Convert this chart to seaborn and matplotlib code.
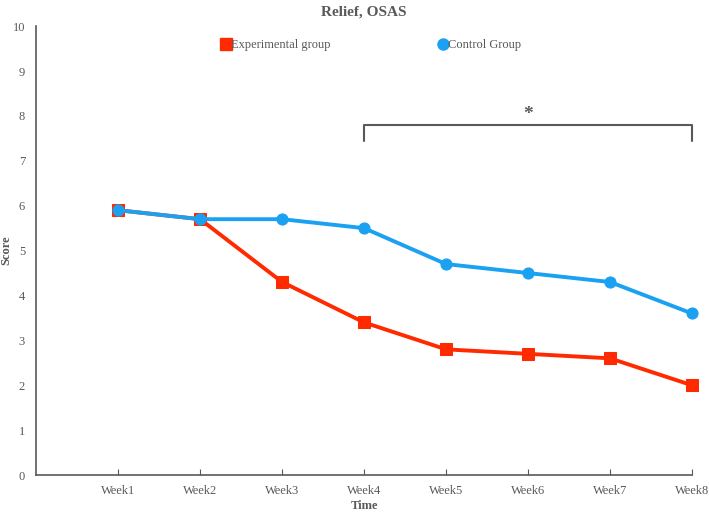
import matplotlib
matplotlib.use('Agg')
import matplotlib.pyplot as plt
from matplotlib.lines import Line2D
import seaborn as sb
import pandas as pd

weeks = ['Week1', 'Week2', 'Week3', 'Week4', 'Week5', 'Week6', 'Week7', 'Week8']
experimental = [5.9, 5.7, 4.3, 3.4, 2.8, 2.7, 2.6, 2.0]
control = [5.9, 5.7, 5.7, 5.5, 4.7, 4.5, 4.3, 3.6]
y_ticks = list(range(0, 11))

red = '#FF2A00'
blue = '#1BA1F2'
grey = '#595959'

sb.set_style('white')
plt.rcParams['font.family'] = ['Liberation Serif', 'DejaVu Serif']

df = pd.DataFrame({'pos': list(range(1, len(weeks) + 1)), 'week': weeks,
                   'Experimental group': experimental, 'Control Group': control})

fig, ax = plt.subplots(figsize=(7.09, 5.13), dpi=100)
fig.subplots_adjust(left=0.051, right=0.976, top=0.949, bottom=0.074)

sb.lineplot(data=df, x='pos', y='Experimental group', ax=ax, color=red, lw=2.8,
            marker='s', markersize=8, markeredgecolor=red, zorder=3)
sb.lineplot(data=df, x='pos', y='Control Group', ax=ax, color=blue, lw=2.8,
            marker='o', markersize=8, markeredgecolor=blue, zorder=4)
# markers at Week8 sit on the axis edge, keep them whole
for line in ax.lines:
    line.set_clip_on(False)

ax.set_xlim(0, len(weeks))
ax.set_ylim(0, 10)
ax.set_xticks(df['pos'])
ax.set_xticklabels(weeks)
ax.set_yticks(y_ticks)
ax.tick_params(axis='x', direction='in', length=4, color=grey, labelcolor=grey,
               labelsize=9, pad=7, bottom=True)
ax.tick_params(axis='y', length=0, labelcolor=grey, labelsize=9, pad=8)

for side in ['top', 'right']:
    ax.spines[side].set_visible(False)
for side in ['left', 'bottom']:
    ax.spines[side].set_color(grey)
    ax.spines[side].set_linewidth(1.2)

ax.set_xlabel('Time', fontweight='bold', color=grey, fontsize=9, labelpad=2)
ax.set_ylabel('Score', fontweight='bold', color=grey, fontsize=9)
ax.yaxis.set_label_coords(-0.037, 0.5)
ax.set_title('Relief, OSAS', fontweight='bold', color=grey, fontsize=11, pad=8)

# significance bracket from Week4 to Week8
x0, x1 = 4, 8
ax.plot([x0, x0, x1, x1], [7.45, 7.8, 7.8, 7.45], color=grey, lw=1.5, clip_on=False)
ax.text((x0 + x1) / 2, 7.84, '*', ha='center', va='bottom', fontsize=14,
        fontweight='bold', color=grey)

handles = [Line2D([], [], color=red, marker='s', ls='none', markersize=8),
           Line2D([], [], color=blue, marker='o', ls='none', markersize=8)]
ax.legend(handles, ['Experimental group', 'Control Group'], ncol=2, frameon=False,
          loc='center', bbox_to_anchor=(0.508, 0.957), columnspacing=8.4,
          handletextpad=-0.2, handlelength=1.2, labelcolor=grey, fontsize=9)

fig.savefig('out.png', dpi=100)
